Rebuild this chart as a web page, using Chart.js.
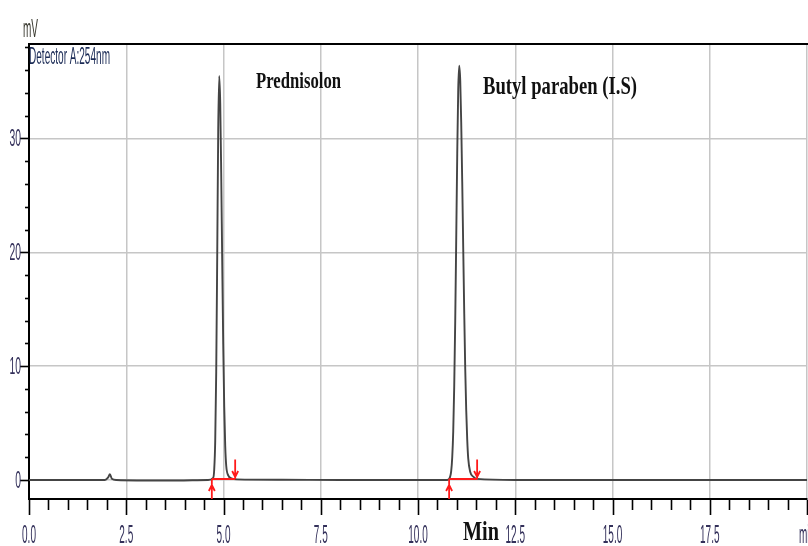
<!DOCTYPE html>
<html>
<head>
<meta charset="utf-8">
<title>Cromatograma</title>
<script src="https://cdn.jsdelivr.net/npm/chart.js@4.4.0/dist/chart.umd.min.js"></script>
<style>
  html, body { margin: 0; padding: 0; background: #fff; }
  #wrap { width: 808px; height: 546px; }
</style>
</head>
<body>
<div id="wrap"><canvas id="cromatograma"></canvas></div>
<script>
const tempos = [0, 1.5, 1.95, 2.03, 2.08, 2.13, 2.25, 3.5, 4.6,
  4.736, 4.761, 4.787, 4.813, 4.839, 4.864, 4.89, 4.916, 4.941, 4.967, 4.993, 5.019, 5.044, 5.07, 5.121, 5.2, 5.35,
  6.5, 8.0, 9.5, 10.75,
  10.803, 10.854, 10.88, 10.906, 10.931, 10.957, 10.983, 11.009, 11.034, 11.06, 11.086, 11.111, 11.137, 11.163,
  11.189, 11.214, 11.24, 11.266, 11.291, 11.343, 11.42, 11.52,
  12.5, 15, 17.5, 20];
const sinal = [0, 0, 0, 0.2, 0.5, 0.1, 0, -0.05, 0,
  0.2, 0.9, 3.4, 9.5, 19.8, 30.7, 35.5, 33.1, 27, 19.2, 11.9, 6.4, 3.0, 1.25, 0.4, 0.15, 0.05,
  0.02, 0, 0, 0,
  0.1, 0.8, 2.0, 4.3, 8.2, 14.0, 21.3, 28.7, 34.3, 36.4, 35.1, 31.4, 26.2, 20.3,
  14.6, 9.8, 6.1, 3.5, 1.9, 0.7, 0.3, 0.1,
  0, 0, 0, 0];

// inicio / fim da integracao de cada pico (setas vermelhas)
const inicioPicos = [4.70, 10.80];
const fimPicos = [5.30, 11.52];

// nomes dos picos
const nomesPicos = ['Prednisolon', 'Butyl paraben (I.S)'];

// ticks dos eixos
const xTicksMaiores = [0, 2.5, 5, 7.5, 10, 12.5, 15, 17.5, 20];
const xRotulos = ['0.0', '2.5', '5.0', '7.5', '10.0', '12.5', '15.0', '17.5', 'min'];
const yTicks = [0, 2, 4, 6, 8, 10, 12, 14, 16, 18, 20, 22, 24, 26, 28, 30, 32, 34, 36, 38];
const yRotulos = ['0', '10', '20', '30'];
const yTicksMaiores = [0, 10, 20, 30];

const xTicksTodos = Array.from({ length: 41 }, (_, i) => i * 0.5);
const ehMaiorX = v => xTicksMaiores.includes(v);
const ehMaiorY = v => yTicksMaiores.includes(v);

const corRotulo = '#33305a';

// texto comprimido na horizontal (a imagem original e bem "esticada")
function textoEscalado(ctx, txt, x, y, fonte, escalaX, align, cor) {
  ctx.save();
  ctx.font = fonte;
  ctx.fillStyle = cor;
  ctx.textAlign = 'left';
  ctx.textBaseline = 'alphabetic';
  const w = ctx.measureText(txt).width * escalaX;
  const x0 = align === 'center' ? x - w / 2 : (align === 'right' ? x - w : x);
  ctx.translate(x0, y);
  ctx.scale(escalaX, 1);
  ctx.fillText(txt, 0, 0);
  ctx.restore();
}

// texto ajustado a uma largura
function textoLargura(ctx, txt, x, y, fonte, largura, cor) {
  ctx.save();
  ctx.font = fonte;
  const esc = largura / ctx.measureText(txt).width;
  ctx.restore();
  textoEscalado(ctx, txt, x, y, fonte, esc, 'left', cor);
}

const decoracao = {
  id: 'decoracao',
  afterDatasetsDraw(chart) {
    const { ctx, chartArea, scales } = chart;
    const x = scales.x, y = scales.y;
    const y0 = y.getPixelForValue(0);

    // === marcadores de integracao (vermelho) ===
    ctx.save();
    ctx.strokeStyle = '#ff1a1a';
    ctx.lineWidth = 1.8;
    inicioPicos.forEach((ti, i) => {
      const xa = x.getPixelForValue(ti);
      const xb = x.getPixelForValue(fimPicos[i]);
      ctx.beginPath();
      // linha de base
      ctx.moveTo(xa, y0 - 1);
      ctx.lineTo(xb, y0 - 1);
      // seta para cima no inicio
      ctx.moveTo(xa, chartArea.bottom);
      ctx.lineTo(xa, y0 - 1);
      ctx.moveTo(xa - 3, y0 + 11);
      ctx.lineTo(xa, y0 + 5);
      ctx.lineTo(xa + 3, y0 + 11);
      // seta para baixo no fim
      const yTopo = y.getPixelForValue(1.8);
      ctx.moveTo(xb, yTopo);
      ctx.lineTo(xb, y0 - 1);
      ctx.moveTo(xb - 3, y0 - 9);
      ctx.lineTo(xb, y0 - 3);
      ctx.lineTo(xb + 3, y0 - 9);
      ctx.stroke();
    });
    ctx.restore();
  },
  afterDraw(chart) {
    const { ctx, chartArea, scales } = chart;
    const x = scales.x, y = scales.y;

    ctx.save();
    // borda superior
    ctx.strokeStyle = '#000';
    ctx.lineWidth = 2;
    ctx.beginPath();
    ctx.moveTo(chartArea.left, chartArea.top);
    ctx.lineTo(chartArea.right + 2, chartArea.top);
    ctx.stroke();

    // marcas do eixo X
    ctx.lineWidth = 1.6;
    xTicksTodos.forEach(v => {
      const px = Math.round(x.getPixelForValue(v)) + 0.5;
      ctx.beginPath();
      ctx.moveTo(px, chartArea.bottom + 1);
      ctx.lineTo(px, chartArea.bottom + (ehMaiorX(v) ? 16 : 11));
      ctx.stroke();
    });
    // marcas do eixo Y
    yTicks.forEach(v => {
      const py = Math.round(y.getPixelForValue(v)) + 0.5;
      ctx.beginPath();
      ctx.moveTo(chartArea.left - (ehMaiorY(v) ? 9 : 4), py);
      ctx.lineTo(chartArea.left, py);
      ctx.stroke();
    });
    ctx.restore();

    // rotulos dos ticks
    xTicksMaiores.forEach((v, i) => {
      textoEscalado(ctx, xRotulos[i], x.getPixelForValue(v), chartArea.bottom + 44,
        '25px "Liberation Sans", Arial, sans-serif', 0.4, 'center', corRotulo);
    });
    yTicksMaiores.forEach((v, i) => {
      textoEscalado(ctx, yRotulos[i], chartArea.left - 8, y.getPixelForValue(v) + 8,
        '23px "Liberation Sans", Arial, sans-serif', 0.45, 'right', corRotulo);
    });

    // unidades e detector
    textoLargura(ctx, 'mV', 23, 37, '26px "Liberation Sans", Arial, sans-serif', 15, '#3a3a30');
    textoLargura(ctx, 'Detector A:254nm', chartArea.left, 64, '24px "Liberation Sans", Arial, sans-serif', 81, '#1a2a55');

    // nomes dos picos e eixo
    textoLargura(ctx, nomesPicos[0], 256, 88, 'bold 23px "Liberation Serif", "Times New Roman", serif', 85, '#111');
    textoLargura(ctx, nomesPicos[1], 483, 94, 'bold 25px "Liberation Serif", "Times New Roman", serif', 154, '#111');
    textoLargura(ctx, 'Min', 463, 540, 'bold 27px "Liberation Serif", "Times New Roman", serif', 36, '#111');
  }
};

new Chart(document.getElementById('cromatograma'), {
  type: 'line',
  data: {
    datasets: [{
      data: tempos.map((t, i) => ({ x: t, y: sinal[i] })),
      borderColor: '#444',
      borderWidth: 1.9,
      pointRadius: 0,
      fill: false,
      cubicInterpolationMode: 'monotone'
    }]
  },
  options: {
    responsive: true,
    maintainAspectRatio: false,
    animation: false,
    layout: { padding: { top: 44, right: 1, left: 0, bottom: 0 } },
    plugins: { legend: { display: false }, tooltip: { enabled: false } },
    scales: {
      x: {
        type: 'linear',
        min: 0,
        max: 20,
        afterBuildTicks: s => { s.ticks = xTicksTodos.map(v => ({ value: v })); },
        afterFit: s => { s.height = 47; },
        ticks: { display: false },
        grid: {
          drawTicks: false,
          lineWidth: 1.5,
          color: c => (c.tick && ehMaiorX(c.tick.value) ? '#c6c6c6' : 'rgba(0,0,0,0)')
        },
        border: { color: '#000', width: 2 }
      },
      y: {
        min: -1.67,
        max: 38.3,
        afterBuildTicks: s => { s.ticks = yTicks.map(v => ({ value: v })); },
        afterFit: s => { s.width = 29; },
        ticks: { display: false },
        grid: {
          drawTicks: false,
          lineWidth: 1.5,
          color: c => (c.tick && ehMaiorY(c.tick.value) ? '#c6c6c6' : 'rgba(0,0,0,0)')
        },
        border: { color: '#000', width: 2 }
      }
    }
  },
  plugins: [decoracao]
});
</script>
</body>
</html>
